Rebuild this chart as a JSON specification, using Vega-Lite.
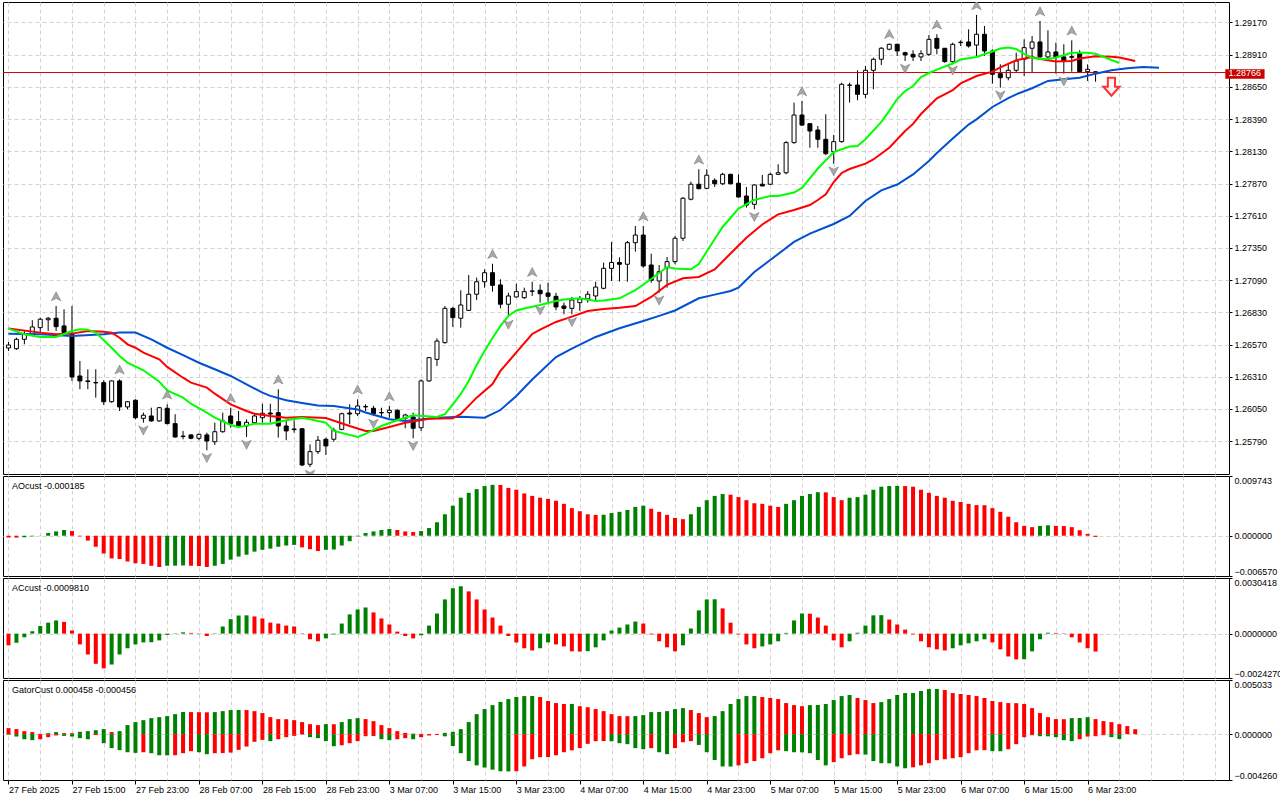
{
  "$schema": "https://vega.github.io/schema/vega-lite/v6.json",
  "background": "white",
  "padding": {"left": 2, "top": 1, "right": 0, "bottom": 0},
  "spacing": 2,
  "bounds": "flush",
  "config": {
    "view": {"stroke": "#000000", "strokeWidth": 1},
    "axis": {"labelFont": "Liberation Sans", "labelFontSize": 9, "labelColor": "#000000", "gridColor": "#d2d2d2", "gridDash": [4, 3], "gridWidth": 1, "domain": false, "tickColor": "#000000", "tickSize": 3, "labelPadding": 2},
    "text": {"font": "Liberation Sans", "fontSize": 9}
  },
  "datasets": {
    "candles": [
      {"i":0,"o":1.26542,"h":1.26590,"l":1.26518,"c":1.26566},
      {"i":1,"o":1.26536,"h":1.26625,"l":1.26526,"c":1.26612},
      {"i":2,"o":1.26612,"h":1.26679,"l":1.26572,"c":1.26653},
      {"i":3,"o":1.26653,"h":1.26766,"l":1.26639,"c":1.26712},
      {"i":4,"o":1.26706,"h":1.26787,"l":1.26666,"c":1.26774},
      {"i":5,"o":1.26770,"h":1.26792,"l":1.26679,"c":1.26782},
      {"i":6,"o":1.26782,"h":1.26881,"l":1.26679,"c":1.26714},
      {"i":7,"o":1.26720,"h":1.26854,"l":1.26639,"c":1.26666},
      {"i":8,"o":1.26653,"h":1.26881,"l":1.26276,"c":1.26308},
      {"i":9,"o":1.26316,"h":1.26437,"l":1.26209,"c":1.26276},
      {"i":10,"o":1.26276,"h":1.26370,"l":1.26209,"c":1.26271},
      {"i":11,"o":1.26263,"h":1.26370,"l":1.26141,"c":1.26260},
      {"i":12,"o":1.26262,"h":1.26281,"l":1.26082,"c":1.26108},
      {"i":13,"o":1.26108,"h":1.26281,"l":1.26100,"c":1.26276},
      {"i":14,"o":1.26276,"h":1.26289,"l":1.26033,"c":1.26066},
      {"i":15,"o":1.26066,"h":1.26114,"l":1.26047,"c":1.26108},
      {"i":16,"o":1.26120,"h":1.26128,"l":1.25966,"c":1.25979},
      {"i":17,"o":1.25974,"h":1.26020,"l":1.25939,"c":1.25999},
      {"i":18,"o":1.25993,"h":1.26060,"l":1.25947,"c":1.25953},
      {"i":19,"o":1.25953,"h":1.26066,"l":1.25947,"c":1.26060},
      {"i":20,"o":1.26055,"h":1.26087,"l":1.25926,"c":1.25931},
      {"i":21,"o":1.25931,"h":1.26007,"l":1.25818,"c":1.25823},
      {"i":22,"o":1.25831,"h":1.25872,"l":1.25805,"c":1.25827},
      {"i":23,"o":1.25840,"h":1.25845,"l":1.25805,"c":1.25813},
      {"i":24,"o":1.25813,"h":1.25850,"l":1.25797,"c":1.25845},
      {"i":25,"o":1.25840,"h":1.25858,"l":1.25716,"c":1.25791},
      {"i":26,"o":1.25785,"h":1.25939,"l":1.25759,"c":1.25866},
      {"i":27,"o":1.25866,"h":1.26020,"l":1.25858,"c":1.25953},
      {"i":28,"o":1.25993,"h":1.26060,"l":1.25898,"c":1.25931},
      {"i":29,"o":1.25947,"h":1.26033,"l":1.25898,"c":1.25912},
      {"i":30,"o":1.25912,"h":1.25966,"l":1.25823,"c":1.25942},
      {"i":31,"o":1.25939,"h":1.26007,"l":1.25931,"c":1.25993},
      {"i":32,"o":1.25979,"h":1.26092,"l":1.25939,"c":1.26015},
      {"i":33,"o":1.26017,"h":1.26092,"l":1.25939,"c":1.26009},
      {"i":34,"o":1.26020,"h":1.26209,"l":1.25818,"c":1.25912},
      {"i":35,"o":1.25912,"h":1.25953,"l":1.25797,"c":1.25872},
      {"i":36,"o":1.25888,"h":1.25958,"l":1.25858,"c":1.25883},
      {"i":37,"o":1.25890,"h":1.25893,"l":1.25589,"c":1.25597},
      {"i":38,"o":1.25603,"h":1.25764,"l":1.25581,"c":1.25705},
      {"i":39,"o":1.25705,"h":1.25831,"l":1.25686,"c":1.25797},
      {"i":40,"o":1.25805,"h":1.25818,"l":1.25678,"c":1.25751},
      {"i":41,"o":1.25805,"h":1.25898,"l":1.25785,"c":1.25878},
      {"i":42,"o":1.25885,"h":1.26020,"l":1.25878,"c":1.26011},
      {"i":43,"o":1.26017,"h":1.26087,"l":1.25926,"c":1.26009},
      {"i":44,"o":1.26011,"h":1.26128,"l":1.25993,"c":1.26074},
      {"i":45,"o":1.26066,"h":1.26087,"l":1.26033,"c":1.26070},
      {"i":46,"o":1.26055,"h":1.26074,"l":1.25993,"c":1.26011},
      {"i":47,"o":1.26021,"h":1.26060,"l":1.25993,"c":1.26018},
      {"i":48,"o":1.26020,"h":1.26074,"l":1.25979,"c":1.26039},
      {"i":49,"o":1.26039,"h":1.26047,"l":1.25966,"c":1.25974},
      {"i":50,"o":1.25974,"h":1.26011,"l":1.25894,"c":1.26001},
      {"i":51,"o":1.25985,"h":1.26020,"l":1.25813,"c":1.25894},
      {"i":52,"o":1.25898,"h":1.26289,"l":1.25872,"c":1.26276},
      {"i":53,"o":1.26276,"h":1.26469,"l":1.26270,"c":1.26464},
      {"i":54,"o":1.26450,"h":1.26620,"l":1.26397,"c":1.26598},
      {"i":55,"o":1.26585,"h":1.26881,"l":1.26577,"c":1.26862},
      {"i":56,"o":1.26862,"h":1.26873,"l":1.26712,"c":1.26787},
      {"i":57,"o":1.26782,"h":1.27008,"l":1.26706,"c":1.26889},
      {"i":58,"o":1.26846,"h":1.27131,"l":1.26841,"c":1.26976},
      {"i":59,"o":1.26976,"h":1.27110,"l":1.26930,"c":1.27077},
      {"i":60,"o":1.27077,"h":1.27177,"l":1.27029,"c":1.27150},
      {"i":61,"o":1.27150,"h":1.27222,"l":1.26997,"c":1.27048},
      {"i":62,"o":1.27051,"h":1.27097,"l":1.26862,"c":1.26895},
      {"i":63,"o":1.26895,"h":1.26988,"l":1.26792,"c":1.26962},
      {"i":64,"o":1.26954,"h":1.27061,"l":1.26948,"c":1.26997},
      {"i":65,"o":1.26948,"h":1.27029,"l":1.26938,"c":1.26997},
      {"i":66,"o":1.27002,"h":1.27077,"l":1.26962,"c":1.27000},
      {"i":67,"o":1.27008,"h":1.27056,"l":1.26908,"c":1.26980},
      {"i":68,"o":1.26986,"h":1.27069,"l":1.26895,"c":1.26959},
      {"i":69,"o":1.26959,"h":1.26988,"l":1.26846,"c":1.26873},
      {"i":70,"o":1.26881,"h":1.26908,"l":1.26814,"c":1.26862},
      {"i":71,"o":1.26862,"h":1.26954,"l":1.26814,"c":1.26929},
      {"i":72,"o":1.26908,"h":1.26962,"l":1.26841,"c":1.26938},
      {"i":73,"o":1.26938,"h":1.27002,"l":1.26908,"c":1.26976},
      {"i":74,"o":1.26962,"h":1.27077,"l":1.26916,"c":1.27034},
      {"i":75,"o":1.27024,"h":1.27231,"l":1.27016,"c":1.27185},
      {"i":76,"o":1.27185,"h":1.27398,"l":1.27083,"c":1.27232},
      {"i":77,"o":1.27232,"h":1.27274,"l":1.27079,"c":1.27218},
      {"i":78,"o":1.27218,"h":1.27406,"l":1.27077,"c":1.27392},
      {"i":79,"o":1.27392,"h":1.27527,"l":1.27320,"c":1.27454},
      {"i":80,"o":1.27454,"h":1.27527,"l":1.27190,"c":1.27204},
      {"i":81,"o":1.27212,"h":1.27303,"l":1.27069,"c":1.27089},
      {"i":82,"o":1.27083,"h":1.27212,"l":1.26988,"c":1.27158},
      {"i":83,"o":1.27190,"h":1.27277,"l":1.27029,"c":1.27239},
      {"i":84,"o":1.27239,"h":1.27446,"l":1.27218,"c":1.27428},
      {"i":85,"o":1.27428,"h":1.27761,"l":1.27406,"c":1.27751},
      {"i":86,"o":1.27743,"h":1.27885,"l":1.27734,"c":1.27864},
      {"i":87,"o":1.27864,"h":1.27985,"l":1.27823,"c":1.27828},
      {"i":88,"o":1.27831,"h":1.27985,"l":1.27823,"c":1.27937},
      {"i":89,"o":1.27896,"h":1.27912,"l":1.27842,"c":1.27868},
      {"i":90,"o":1.27868,"h":1.27957,"l":1.27858,"c":1.27944},
      {"i":91,"o":1.27944,"h":1.27949,"l":1.27864,"c":1.27868},
      {"i":92,"o":1.27872,"h":1.27944,"l":1.27755,"c":1.27761},
      {"i":93,"o":1.27769,"h":1.27842,"l":1.27675,"c":1.27696},
      {"i":94,"o":1.27702,"h":1.27864,"l":1.27662,"c":1.27858},
      {"i":95,"o":1.27864,"h":1.27939,"l":1.27848,"c":1.27850},
      {"i":96,"o":1.27864,"h":1.27957,"l":1.27858,"c":1.27944},
      {"i":97,"o":1.27944,"h":1.28025,"l":1.27939,"c":1.27957},
      {"i":98,"o":1.27957,"h":1.28213,"l":1.27944,"c":1.28200},
      {"i":99,"o":1.28200,"h":1.28523,"l":1.28192,"c":1.28423},
      {"i":100,"o":1.28423,"h":1.28536,"l":1.28334,"c":1.28342},
      {"i":101,"o":1.28353,"h":1.28358,"l":1.28159,"c":1.28294},
      {"i":102,"o":1.28302,"h":1.28334,"l":1.28159,"c":1.28227},
      {"i":103,"o":1.28227,"h":1.28429,"l":1.28100,"c":1.28111},
      {"i":104,"o":1.28127,"h":1.28262,"l":1.28030,"c":1.28208},
      {"i":105,"o":1.28208,"h":1.28684,"l":1.28200,"c":1.28671},
      {"i":106,"o":1.28665,"h":1.28684,"l":1.28523,"c":1.28663},
      {"i":107,"o":1.28665,"h":1.28784,"l":1.28542,"c":1.28590},
      {"i":108,"o":1.28590,"h":1.28819,"l":1.28558,"c":1.28784},
      {"i":109,"o":1.28784,"h":1.28886,"l":1.28631,"c":1.28873},
      {"i":110,"o":1.28873,"h":1.28972,"l":1.28827,"c":1.28962},
      {"i":111,"o":1.28954,"h":1.28999,"l":1.28946,"c":1.28994},
      {"i":112,"o":1.28994,"h":1.28999,"l":1.28900,"c":1.28940},
      {"i":113,"o":1.28926,"h":1.28934,"l":1.28859,"c":1.28908},
      {"i":114,"o":1.28913,"h":1.28946,"l":1.28859,"c":1.28892},
      {"i":115,"o":1.28892,"h":1.28946,"l":1.28859,"c":1.28918},
      {"i":116,"o":1.28913,"h":1.29069,"l":1.28900,"c":1.29034},
      {"i":117,"o":1.29042,"h":1.29075,"l":1.28913,"c":1.28962},
      {"i":118,"o":1.28962,"h":1.28964,"l":1.28845,"c":1.28854},
      {"i":119,"o":1.28854,"h":1.29007,"l":1.28845,"c":1.28994},
      {"i":120,"o":1.29007,"h":1.29026,"l":1.28980,"c":1.29011},
      {"i":121,"o":1.29013,"h":1.29115,"l":1.28967,"c":1.28980},
      {"i":122,"o":1.28988,"h":1.29231,"l":1.28900,"c":1.29075},
      {"i":123,"o":1.29075,"h":1.29142,"l":1.28900,"c":1.28940},
      {"i":124,"o":1.28940,"h":1.28954,"l":1.28676,"c":1.28752},
      {"i":125,"o":1.28757,"h":1.28832,"l":1.28644,"c":1.28724},
      {"i":126,"o":1.28724,"h":1.28832,"l":1.28703,"c":1.28784},
      {"i":127,"o":1.28784,"h":1.28926,"l":1.28765,"c":1.28859},
      {"i":128,"o":1.28873,"h":1.29034,"l":1.28738,"c":1.28967},
      {"i":129,"o":1.28962,"h":1.29061,"l":1.28765,"c":1.29013},
      {"i":130,"o":1.29013,"h":1.29182,"l":1.28886,"c":1.28892},
      {"i":131,"o":1.28892,"h":1.29107,"l":1.28881,"c":1.28932},
      {"i":132,"o":1.28932,"h":1.29007,"l":1.28757,"c":1.28886},
      {"i":133,"o":1.28892,"h":1.28994,"l":1.28757,"c":1.28859},
      {"i":134,"o":1.28894,"h":1.29026,"l":1.28773,"c":1.28889},
      {"i":135,"o":1.28926,"h":1.28946,"l":1.28765,"c":1.28773},
      {"i":136,"o":1.28773,"h":1.28832,"l":1.28698,"c":1.28792},
      {"i":137,"o":1.28772,"h":1.28775,"l":1.28692,"c":1.28766}
    ],
    "lines": [
      {"s":"J","i":0,"v":1.26657},{"s":"J","i":4,"v":1.26653},{"s":"J","i":8,"v":1.26639},{"s":"J","i":12,"v":1.26653},{"s":"J","i":14,"v":1.26666},{"s":"J","i":16,"v":1.26666},{"s":"J","i":18,"v":1.26612},{"s":"J","i":20,"v":1.26544},{"s":"J","i":22,"v":1.26485},{"s":"J","i":24,"v":1.26423},{"s":"J","i":26,"v":1.26370},{"s":"J","i":28,"v":1.26316},{"s":"J","i":30,"v":1.26249},{"s":"J","i":32,"v":1.26181},{"s":"J","i":33,"v":1.26155},{"s":"J","i":35,"v":1.26120},{"s":"J","i":37,"v":1.26098},{"s":"J","i":39,"v":1.26078},{"s":"J","i":41,"v":1.26074},{"s":"J","i":44,"v":1.26045},{"s":"J","i":45,"v":1.26021},{"s":"J","i":48,"v":1.25966},{"s":"J","i":50,"v":1.25953},{"s":"J","i":54,"v":1.25979},{"s":"J","i":57,"v":1.25987},{"s":"J","i":60,"v":1.25979},{"s":"J","i":62,"v":1.26041},{"s":"J","i":64,"v":1.26155},{"s":"J","i":66,"v":1.26288},{"s":"J","i":69,"v":1.26469},{"s":"J","i":71,"v":1.26536},{"s":"J","i":74,"v":1.26631},{"s":"J","i":77,"v":1.26701},{"s":"J","i":80,"v":1.26760},{"s":"J","i":82,"v":1.26801},{"s":"J","i":84,"v":1.26845},{"s":"J","i":87,"v":1.26943},{"s":"J","i":89,"v":1.26973},{"s":"J","i":91,"v":1.27002},{"s":"J","i":92,"v":1.27029},{"s":"J","i":94,"v":1.27155},{"s":"J","i":96,"v":1.27252},{"s":"J","i":99,"v":1.27398},{"s":"J","i":101,"v":1.27466},{"s":"J","i":104,"v":1.27543},{"s":"J","i":106,"v":1.27608},{"s":"J","i":108,"v":1.27729},{"s":"J","i":110,"v":1.27815},{"s":"J","i":112,"v":1.27862},{"s":"J","i":114,"v":1.27943},{"s":"J","i":116,"v":1.28052},{"s":"J","i":117,"v":1.28116},{"s":"J","i":119,"v":1.28233},{"s":"J","i":121,"v":1.28346},{"s":"J","i":122,"v":1.28388},{"s":"J","i":124,"v":1.28488},{"s":"J","i":126,"v":1.28560},{"s":"J","i":127,"v":1.28590},{"s":"J","i":129,"v":1.28639},{"s":"J","i":131,"v":1.28698},{"s":"J","i":133,"v":1.28711},{"s":"J","i":135,"v":1.28724},{"s":"J","i":137,"v":1.28757},{"s":"J","i":139,"v":1.28784},{"s":"J","i":141,"v":1.28800},{"s":"J","i":143,"v":1.28811},{"s":"J","i":145,"v":1.28805},
      {"s":"T","i":0,"v":1.26700},{"s":"T","i":4,"v":1.26666},{"s":"T","i":6,"v":1.26653},{"s":"T","i":8,"v":1.26658},{"s":"T","i":10,"v":1.26679},{"s":"T","i":12,"v":1.26673},{"s":"T","i":13,"v":1.26666},{"s":"T","i":14,"v":1.26625},{"s":"T","i":15,"v":1.26571},{"s":"T","i":16,"v":1.26544},{"s":"T","i":17,"v":1.26504},{"s":"T","i":19,"v":1.26450},{"s":"T","i":20,"v":1.26389},{"s":"T","i":22,"v":1.26302},{"s":"T","i":23,"v":1.26262},{"s":"T","i":25,"v":1.26222},{"s":"T","i":26,"v":1.26173},{"s":"T","i":28,"v":1.26087},{"s":"T","i":30,"v":1.26033},{"s":"T","i":31,"v":1.26011},{"s":"T","i":33,"v":1.25993},{"s":"T","i":35,"v":1.25979},{"s":"T","i":37,"v":1.25985},{"s":"T","i":40,"v":1.25977},{"s":"T","i":43,"v":1.25912},{"s":"T","i":45,"v":1.25872},{"s":"T","i":46,"v":1.25872},{"s":"T","i":48,"v":1.25904},{"s":"T","i":50,"v":1.25939},{"s":"T","i":53,"v":1.25971},{"s":"T","i":56,"v":1.25974},{"s":"T","i":57,"v":1.26009},{"s":"T","i":59,"v":1.26141},{"s":"T","i":61,"v":1.26251},{"s":"T","i":62,"v":1.26357},{"s":"T","i":64,"v":1.26506},{"s":"T","i":66,"v":1.26655},{"s":"T","i":67,"v":1.26691},{"s":"T","i":69,"v":1.26752},{"s":"T","i":71,"v":1.26795},{"s":"T","i":73,"v":1.26841},{"s":"T","i":75,"v":1.26857},{"s":"T","i":77,"v":1.26867},{"s":"T","i":79,"v":1.26881},{"s":"T","i":81,"v":1.26954},{"s":"T","i":83,"v":1.27051},{"s":"T","i":85,"v":1.27105},{"s":"T","i":87,"v":1.27115},{"s":"T","i":89,"v":1.27176},{"s":"T","i":91,"v":1.27305},{"s":"T","i":93,"v":1.27432},{"s":"T","i":95,"v":1.27539},{"s":"T","i":97,"v":1.27621},{"s":"T","i":99,"v":1.27656},{"s":"T","i":101,"v":1.27696},{"s":"T","i":102,"v":1.27737},{"s":"T","i":103,"v":1.27783},{"s":"T","i":104,"v":1.27882},{"s":"T","i":105,"v":1.27955},{"s":"T","i":106,"v":1.27987},{"s":"T","i":108,"v":1.28030},{"s":"T","i":109,"v":1.28064},{"s":"T","i":111,"v":1.28159},{"s":"T","i":113,"v":1.28294},{"s":"T","i":114,"v":1.28351},{"s":"T","i":115,"v":1.28431},{"s":"T","i":117,"v":1.28558},{"s":"T","i":119,"v":1.28623},{"s":"T","i":120,"v":1.28678},{"s":"T","i":122,"v":1.28738},{"s":"T","i":124,"v":1.28773},{"s":"T","i":125,"v":1.28807},{"s":"T","i":127,"v":1.28865},{"s":"T","i":129,"v":1.28892},{"s":"T","i":130,"v":1.28875},{"s":"T","i":132,"v":1.28855},{"s":"T","i":134,"v":1.28859},{"s":"T","i":135,"v":1.28879},{"s":"T","i":137,"v":1.28897},{"s":"T","i":139,"v":1.28894},{"s":"T","i":140,"v":1.28887},{"s":"T","i":142,"v":1.28859},
      {"s":"L","i":0,"v":1.26698},{"s":"L","i":2,"v":1.26653},{"s":"L","i":4,"v":1.26631},{"s":"L","i":6,"v":1.26631},{"s":"L","i":8,"v":1.26679},{"s":"L","i":9,"v":1.26693},{"s":"L","i":10,"v":1.26690},{"s":"L","i":11,"v":1.26666},{"s":"L","i":13,"v":1.26544},{"s":"L","i":14,"v":1.26477},{"s":"L","i":15,"v":1.26423},{"s":"L","i":17,"v":1.26362},{"s":"L","i":19,"v":1.26270},{"s":"L","i":20,"v":1.26200},{"s":"L","i":22,"v":1.26141},{"s":"L","i":23,"v":1.26092},{"s":"L","i":25,"v":1.26020},{"s":"L","i":26,"v":1.25979},{"s":"L","i":28,"v":1.25920},{"s":"L","i":29,"v":1.25904},{"s":"L","i":30,"v":1.25915},{"s":"L","i":31,"v":1.25931},{"s":"L","i":33,"v":1.25931},{"s":"L","i":35,"v":1.25958},{"s":"L","i":37,"v":1.25979},{"s":"L","i":38,"v":1.25966},{"s":"L","i":40,"v":1.25939},{"s":"L","i":41,"v":1.25872},{"s":"L","i":44,"v":1.25823},{"s":"L","i":45,"v":1.25848},{"s":"L","i":47,"v":1.25912},{"s":"L","i":49,"v":1.25958},{"s":"L","i":51,"v":1.25999},{"s":"L","i":54,"v":1.25985},{"s":"L","i":55,"v":1.26007},{"s":"L","i":56,"v":1.26087},{"s":"L","i":57,"v":1.26171},{"s":"L","i":58,"v":1.26276},{"s":"L","i":59,"v":1.26405},{"s":"L","i":60,"v":1.26518},{"s":"L","i":61,"v":1.26623},{"s":"L","i":62,"v":1.26720},{"s":"L","i":63,"v":1.26801},{"s":"L","i":64,"v":1.26845},{"s":"L","i":65,"v":1.26861},{"s":"L","i":67,"v":1.26889},{"s":"L","i":69,"v":1.26921},{"s":"L","i":70,"v":1.26933},{"s":"L","i":72,"v":1.26943},{"s":"L","i":74,"v":1.26921},{"s":"L","i":75,"v":1.26925},{"s":"L","i":77,"v":1.26943},{"s":"L","i":79,"v":1.27010},{"s":"L","i":81,"v":1.27099},{"s":"L","i":83,"v":1.27196},{"s":"L","i":84,"v":1.27184},{"s":"L","i":86,"v":1.27177},{"s":"L","i":87,"v":1.27220},{"s":"L","i":89,"v":1.27422},{"s":"L","i":90,"v":1.27519},{"s":"L","i":92,"v":1.27668},{"s":"L","i":94,"v":1.27737},{"s":"L","i":96,"v":1.27769},{"s":"L","i":97,"v":1.27769},{"s":"L","i":99,"v":1.27797},{"s":"L","i":100,"v":1.27834},{"s":"L","i":102,"v":1.27991},{"s":"L","i":104,"v":1.28124},{"s":"L","i":106,"v":1.28169},{"s":"L","i":107,"v":1.28173},{"s":"L","i":108,"v":1.28227},{"s":"L","i":110,"v":1.28367},{"s":"L","i":111,"v":1.28456},{"s":"L","i":112,"v":1.28552},{"s":"L","i":113,"v":1.28617},{"s":"L","i":114,"v":1.28657},{"s":"L","i":115,"v":1.28730},{"s":"L","i":116,"v":1.28762},{"s":"L","i":117,"v":1.28790},{"s":"L","i":119,"v":1.28839},{"s":"L","i":120,"v":1.28871},{"s":"L","i":122,"v":1.28892},{"s":"L","i":124,"v":1.28936},{"s":"L","i":125,"v":1.28960},{"s":"L","i":126,"v":1.28968},{"s":"L","i":127,"v":1.28956},{"s":"L","i":128,"v":1.28916},{"s":"L","i":129,"v":1.28886},{"s":"L","i":130,"v":1.28875},{"s":"L","i":131,"v":1.28875},{"s":"L","i":132,"v":1.28887},{"s":"L","i":134,"v":1.28925},{"s":"L","i":136,"v":1.28926},{"s":"L","i":137,"v":1.28918},{"s":"L","i":138,"v":1.28892},{"s":"L","i":139,"v":1.28867},{"s":"L","i":140,"v":1.28843}
    ],
    "fu": [
      {"i":6,"p":1.26881},{"i":14,"p":1.26289},{"i":20,"p":1.26087},{"i":28,"p":1.26060},{"i":34,"p":1.26209},{"i":44,"p":1.26128},{"i":48,"p":1.26074},{"i":61,"p":1.27222},{"i":66,"p":1.27077},{"i":80,"p":1.27527},{"i":87,"p":1.27985},{"i":100,"p":1.28536},{"i":111,"p":1.28999},{"i":117,"p":1.29075},{"i":122,"p":1.29231},{"i":130,"p":1.29182},{"i":134,"p":1.29026}
    ],
    "fd": [
      {"i":17,"p":1.25939},{"i":25,"p":1.25716},{"i":30,"p":1.25823},{"i":38,"p":1.25581},{"i":46,"p":1.25993},{"i":51,"p":1.25813},{"i":63,"p":1.26792},{"i":67,"p":1.26908},{"i":71,"p":1.26814},{"i":82,"p":1.26988},{"i":94,"p":1.27662},{"i":104,"p":1.28030},{"i":113,"p":1.28859},{"i":119,"p":1.28845},{"i":125,"p":1.28644},{"i":133,"p":1.28757}
    ],
    "sig": [{"i":139,"p":1.28652}],
    "bid": [{"p":1.28766,"lo":1.28716,"hi":1.28793,"t":"1.28766"}],
    "ao": [
      {"i":0,"v":-0.0003,"k":"r"},{"i":1,"v":-0.0003,"k":"r"},{"i":2,"v":-0.00025,"k":"g"},{"i":3,"v":-0.0001,"k":"g"},{"i":4,"v":0.00002,"k":"g"},{"i":5,"v":0.00044,"k":"g"},{"i":6,"v":0.0007,"k":"g"},{"i":7,"v":0.00093,"k":"g"},{"i":8,"v":0.00076,"k":"r"},{"i":9,"v":-0.0001,"k":"r"},
      {"i":10,"v":-0.0008,"k":"r"},{"i":11,"v":-0.0018,"k":"r"},{"i":12,"v":-0.0029,"k":"r"},{"i":13,"v":-0.0037,"k":"r"},{"i":14,"v":-0.0038,"k":"r"},{"i":15,"v":-0.0042,"k":"r"},{"i":16,"v":-0.0045,"k":"r"},{"i":17,"v":-0.0046,"k":"r"},{"i":18,"v":-0.0049,"k":"r"},{"i":19,"v":-0.0051,"k":"r"},
      {"i":20,"v":-0.0049,"k":"g"},{"i":21,"v":-0.00488,"k":"g"},{"i":22,"v":-0.00485,"k":"g"},{"i":23,"v":-0.0049,"k":"r"},{"i":24,"v":-0.00495,"k":"r"},{"i":25,"v":-0.0051,"k":"r"},{"i":26,"v":-0.0049,"k":"g"},{"i":27,"v":-0.0046,"k":"g"},{"i":28,"v":-0.0039,"k":"g"},{"i":29,"v":-0.0034,"k":"g"},
      {"i":30,"v":-0.0031,"k":"g"},{"i":31,"v":-0.0026,"k":"g"},{"i":32,"v":-0.0023,"k":"g"},{"i":33,"v":-0.0021,"k":"g"},{"i":34,"v":-0.0018,"k":"g"},{"i":35,"v":-0.0016,"k":"g"},{"i":36,"v":-0.0015,"k":"g"},{"i":37,"v":-0.0019,"k":"r"},{"i":38,"v":-0.0022,"k":"r"},{"i":39,"v":-0.0025,"k":"r"},
      {"i":40,"v":-0.0023,"k":"g"},{"i":41,"v":-0.00225,"k":"g"},{"i":42,"v":-0.0016,"k":"g"},{"i":43,"v":-0.0009,"k":"g"},{"i":44,"v":-0.0001,"k":"g"},{"i":45,"v":0.00044,"k":"g"},{"i":46,"v":0.0007,"k":"g"},{"i":47,"v":0.00093,"k":"g"},{"i":48,"v":0.0011,"k":"g"},{"i":49,"v":0.00093,"k":"r"},
      {"i":50,"v":0.0007,"k":"r"},{"i":51,"v":0.0006,"k":"r"},{"i":52,"v":0.00076,"k":"g"},{"i":53,"v":0.00125,"k":"g"},{"i":54,"v":0.0022,"k":"g"},{"i":55,"v":0.0035,"k":"g"},{"i":56,"v":0.0049,"k":"g"},{"i":57,"v":0.0062,"k":"g"},{"i":58,"v":0.007,"k":"g"},{"i":59,"v":0.0076,"k":"g"},
      {"i":60,"v":0.0081,"k":"g"},{"i":61,"v":0.0083,"k":"g"},{"i":62,"v":0.00828,"k":"r"},{"i":63,"v":0.0078,"k":"r"},{"i":64,"v":0.0075,"k":"r"},{"i":65,"v":0.0069,"k":"r"},{"i":66,"v":0.0065,"k":"r"},{"i":67,"v":0.0062,"k":"r"},{"i":68,"v":0.006,"k":"r"},{"i":69,"v":0.0057,"k":"r"},
      {"i":70,"v":0.0052,"k":"r"},{"i":71,"v":0.0045,"k":"r"},{"i":72,"v":0.004,"k":"r"},{"i":73,"v":0.0035,"k":"r"},{"i":74,"v":0.0034,"k":"r"},{"i":75,"v":0.00342,"k":"g"},{"i":76,"v":0.0037,"k":"g"},{"i":77,"v":0.0039,"k":"g"},{"i":78,"v":0.0042,"k":"g"},{"i":79,"v":0.0047,"k":"g"},
      {"i":80,"v":0.0049,"k":"g"},{"i":81,"v":0.0044,"k":"r"},{"i":82,"v":0.0039,"k":"r"},{"i":83,"v":0.0034,"k":"r"},{"i":84,"v":0.0029,"k":"r"},{"i":85,"v":0.0027,"k":"r"},{"i":86,"v":0.0035,"k":"g"},{"i":87,"v":0.0047,"k":"g"},{"i":88,"v":0.0058,"k":"g"},{"i":89,"v":0.0065,"k":"g"},
      {"i":90,"v":0.0068,"k":"g"},{"i":91,"v":0.0067,"k":"r"},{"i":92,"v":0.0063,"k":"r"},{"i":93,"v":0.0058,"k":"r"},{"i":94,"v":0.0053,"k":"r"},{"i":95,"v":0.0052,"k":"r"},{"i":96,"v":0.0049,"k":"r"},{"i":97,"v":0.0047,"k":"r"},{"i":98,"v":0.0052,"k":"g"},{"i":99,"v":0.0058,"k":"g"},
      {"i":100,"v":0.0065,"k":"g"},{"i":101,"v":0.0068,"k":"g"},{"i":102,"v":0.0071,"k":"g"},{"i":103,"v":0.00708,"k":"r"},{"i":104,"v":0.0063,"k":"r"},{"i":105,"v":0.0058,"k":"r"},{"i":106,"v":0.0062,"k":"g"},{"i":107,"v":0.0063,"k":"g"},{"i":108,"v":0.0067,"k":"g"},{"i":109,"v":0.0075,"k":"g"},
      {"i":110,"v":0.008,"k":"g"},{"i":111,"v":0.0081,"k":"g"},{"i":112,"v":0.00813,"k":"g"},{"i":113,"v":0.0081,"k":"r"},{"i":114,"v":0.008,"k":"r"},{"i":115,"v":0.0075,"k":"r"},{"i":116,"v":0.007,"k":"r"},{"i":117,"v":0.0065,"k":"r"},{"i":118,"v":0.0062,"k":"r"},{"i":119,"v":0.0057,"k":"r"},
      {"i":120,"v":0.0055,"k":"r"},{"i":121,"v":0.0052,"k":"r"},{"i":122,"v":0.005,"k":"r"},{"i":123,"v":0.00498,"k":"r"},{"i":124,"v":0.0045,"k":"r"},{"i":125,"v":0.0039,"k":"r"},{"i":126,"v":0.0031,"k":"r"},{"i":127,"v":0.0022,"k":"r"},{"i":128,"v":0.0016,"k":"r"},{"i":129,"v":0.0014,"k":"r"},
      {"i":130,"v":0.0016,"k":"g"},{"i":131,"v":0.0017,"k":"g"},{"i":132,"v":0.0016,"k":"r"},{"i":133,"v":0.00158,"k":"r"},{"i":134,"v":0.0014,"k":"r"},{"i":135,"v":0.0009,"k":"r"},{"i":136,"v":0.0003,"k":"r"},{"i":137,"v":-0.000185,"k":"r"}
    ],
    "ac": [
      {"i":0,"v":-0.00064,"k":"r"},{"i":1,"v":-0.0005,"k":"g"},{"i":2,"v":-0.0002,"k":"g"},{"i":3,"v":0.00013,"k":"g"},{"i":4,"v":0.00042,"k":"g"},{"i":5,"v":0.0006,"k":"g"},{"i":6,"v":0.00072,"k":"g"},{"i":7,"v":0.00064,"k":"r"},{"i":8,"v":0.00017,"k":"r"},{"i":9,"v":-0.00059,"k":"r"},
      {"i":10,"v":-0.00114,"k":"r"},{"i":11,"v":-0.00165,"k":"r"},{"i":12,"v":-0.0019,"k":"r"},{"i":13,"v":-0.00169,"k":"g"},{"i":14,"v":-0.00114,"k":"g"},{"i":15,"v":-0.0008,"k":"g"},{"i":16,"v":-0.00059,"k":"g"},{"i":17,"v":-0.00048,"k":"g"},{"i":18,"v":-0.00047,"k":"g"},{"i":19,"v":-0.00037,"k":"g"},
      {"i":20,"v":-0.00007,"k":"g"},{"i":21,"v":-0.00002,"k":"g"},{"i":22,"v":0.00007,"k":"g"},{"i":23,"v":0.00004,"k":"r"},{"i":24,"v":-0.00002,"k":"r"},{"i":25,"v":-0.00013,"k":"r"},{"i":26,"v":-0.00002,"k":"g"},{"i":27,"v":0.00039,"k":"g"},{"i":28,"v":0.00079,"k":"g"},{"i":29,"v":0.00099,"k":"g"},
      {"i":30,"v":0.001,"k":"g"},{"i":31,"v":0.00094,"k":"r"},{"i":32,"v":0.00083,"k":"r"},{"i":33,"v":0.0006,"k":"r"},{"i":34,"v":0.00055,"k":"r"},{"i":35,"v":0.00044,"k":"r"},{"i":36,"v":0.00039,"k":"r"},{"i":37,"v":-0.00002,"k":"r"},{"i":38,"v":-0.00031,"k":"r"},{"i":39,"v":-0.00042,"k":"r"},
      {"i":40,"v":-0.00026,"k":"g"},{"i":41,"v":-0.00004,"k":"g"},{"i":42,"v":0.00055,"k":"g"},{"i":43,"v":0.00105,"k":"g"},{"i":44,"v":0.00132,"k":"g"},{"i":45,"v":0.00143,"k":"g"},{"i":46,"v":0.00116,"k":"r"},{"i":47,"v":0.00083,"k":"r"},{"i":48,"v":0.0005,"k":"r"},{"i":49,"v":0.00011,"k":"r"},
      {"i":50,"v":-0.00013,"k":"r"},{"i":51,"v":-0.00026,"k":"r"},{"i":52,"v":-0.00009,"k":"g"},{"i":53,"v":0.00044,"k":"g"},{"i":54,"v":0.0011,"k":"g"},{"i":55,"v":0.00187,"k":"g"},{"i":56,"v":0.00248,"k":"g"},{"i":57,"v":0.00259,"k":"g"},{"i":58,"v":0.00231,"k":"r"},{"i":59,"v":0.00187,"k":"r"},
      {"i":60,"v":0.00132,"k":"r"},{"i":61,"v":0.00088,"k":"r"},{"i":62,"v":0.00044,"k":"r"},{"i":63,"v":-0.00013,"k":"r"},{"i":64,"v":-0.00048,"k":"r"},{"i":65,"v":-0.0008,"k":"r"},{"i":66,"v":-0.00092,"k":"r"},{"i":67,"v":-0.0008,"k":"g"},{"i":68,"v":-0.00048,"k":"g"},{"i":69,"v":-0.00059,"k":"r"},
      {"i":70,"v":-0.0007,"k":"r"},{"i":71,"v":-0.00097,"k":"r"},{"i":72,"v":-0.00098,"k":"r"},{"i":73,"v":-0.00096,"k":"g"},{"i":74,"v":-0.00075,"k":"g"},{"i":75,"v":-0.00037,"k":"g"},{"i":76,"v":0.00017,"k":"g"},{"i":77,"v":0.00033,"k":"g"},{"i":78,"v":0.0005,"k":"g"},{"i":79,"v":0.00066,"k":"g"},
      {"i":80,"v":0.00055,"k":"r"},{"i":81,"v":-0.00004,"k":"r"},{"i":82,"v":-0.00042,"k":"r"},{"i":83,"v":-0.00075,"k":"r"},{"i":84,"v":-0.00097,"k":"r"},{"i":85,"v":-0.00064,"k":"g"},{"i":86,"v":0.00028,"k":"g"},{"i":87,"v":0.00127,"k":"g"},{"i":88,"v":0.00187,"k":"g"},{"i":89,"v":0.00188,"k":"g"},
      {"i":90,"v":0.00138,"k":"r"},{"i":91,"v":0.0006,"k":"r"},{"i":92,"v":-0.00004,"k":"r"},{"i":93,"v":-0.00059,"k":"r"},{"i":94,"v":-0.0008,"k":"r"},{"i":95,"v":-0.0007,"k":"g"},{"i":96,"v":-0.00059,"k":"g"},{"i":97,"v":-0.00042,"k":"g"},{"i":98,"v":0.00004,"k":"g"},{"i":99,"v":0.00072,"k":"g"},
      {"i":100,"v":0.0011,"k":"g"},{"i":101,"v":0.00109,"k":"r"},{"i":102,"v":0.00088,"k":"r"},{"i":103,"v":0.00044,"k":"r"},{"i":104,"v":-0.00037,"k":"r"},{"i":105,"v":-0.00075,"k":"r"},{"i":106,"v":-0.00042,"k":"g"},{"i":107,"v":0.00005,"k":"g"},{"i":108,"v":0.00044,"k":"g"},{"i":109,"v":0.001,"k":"g"},
      {"i":110,"v":0.00101,"k":"g"},{"i":111,"v":0.00077,"k":"r"},{"i":112,"v":0.0005,"k":"r"},{"i":113,"v":0.00022,"k":"r"},{"i":114,"v":-0.00004,"k":"r"},{"i":115,"v":-0.00042,"k":"r"},{"i":116,"v":-0.00075,"k":"r"},{"i":117,"v":-0.00086,"k":"r"},{"i":118,"v":-0.00092,"k":"r"},{"i":119,"v":-0.0008,"k":"g"},
      {"i":120,"v":-0.00064,"k":"g"},{"i":121,"v":-0.00053,"k":"g"},{"i":122,"v":-0.00042,"k":"g"},{"i":123,"v":-0.00031,"k":"g"},{"i":124,"v":-0.00048,"k":"r"},{"i":125,"v":-0.00086,"k":"r"},{"i":126,"v":-0.00125,"k":"r"},{"i":127,"v":-0.00141,"k":"r"},{"i":128,"v":-0.0014,"k":"g"},{"i":129,"v":-0.00097,"k":"g"},
      {"i":130,"v":-0.00031,"k":"g"},{"i":131,"v":0.00005,"k":"g"},{"i":132,"v":0.00004,"k":"r"},{"i":133,"v":-0.00002,"k":"r"},{"i":134,"v":-0.0002,"k":"r"},{"i":135,"v":-0.00048,"k":"r"},{"i":136,"v":-0.0008,"k":"r"},{"i":137,"v":-0.000981,"k":"r"}
    ],
    "gator": [
      {"i":0,"u":0.00056,"uk":"r","d":-0.00005,"dk":"g"},{"i":1,"u":0.00047,"uk":"r","d":-0.00022,"dk":"g"},{"i":2,"u":0.00028,"uk":"r","d":-0.00047,"dk":"g"},{"i":3,"u":0.00019,"uk":"r","d":-0.00056,"dk":"g"},{"i":4,"u":0.00003,"uk":"r","d":-0.00047,"dk":"r"},
      {"i":5,"u":0.00009,"uk":"g","d":-0.00028,"dk":"r"},{"i":6,"u":0.00019,"uk":"g","d":-0.00012,"dk":"r"},{"i":7,"u":0.00009,"uk":"r","d":-0.00016,"dk":"g"},{"i":8,"u":0.00009,"uk":"r","d":-0.00022,"dk":"g"},{"i":9,"u":0.00022,"uk":"g","d":-0.00037,"dk":"g"},
      {"i":10,"u":0.00028,"uk":"g","d":-0.00047,"dk":"g"},{"i":11,"u":0.00037,"uk":"g","d":-0.00009,"dk":"r"},{"i":12,"u":0.00047,"uk":"g","d":-0.00084,"dk":"g"},{"i":13,"u":0.00019,"uk":"r","d":-0.0013,"dk":"g"},{"i":14,"u":0.00028,"uk":"g","d":-0.00149,"dk":"g"},
      {"i":15,"u":0.00084,"uk":"g","d":-0.00168,"dk":"g"},{"i":16,"u":0.00112,"uk":"g","d":-0.00174,"dk":"g"},{"i":17,"u":0.0013,"uk":"g","d":-0.00168,"dk":"r"},{"i":18,"u":0.00149,"uk":"g","d":-0.00177,"dk":"g"},{"i":19,"u":0.00158,"uk":"g","d":-0.00196,"dk":"g"},
      {"i":20,"u":0.00168,"uk":"g","d":-0.00197,"dk":"g"},{"i":21,"u":0.00186,"uk":"g","d":-0.00196,"dk":"r"},{"i":22,"u":0.00206,"uk":"g","d":-0.00177,"dk":"r"},{"i":23,"u":0.00205,"uk":"r","d":-0.00158,"dk":"r"},{"i":24,"u":0.00204,"uk":"r","d":-0.00168,"dk":"g"},
      {"i":25,"u":0.00203,"uk":"r","d":-0.00186,"dk":"g"},{"i":26,"u":0.00205,"uk":"g","d":-0.00177,"dk":"r"},{"i":27,"u":0.00214,"uk":"g","d":-0.00176,"dk":"r"},{"i":28,"u":0.00224,"uk":"g","d":-0.00171,"dk":"r"},{"i":29,"u":0.00225,"uk":"g","d":-0.00146,"dk":"r"},
      {"i":30,"u":0.00224,"uk":"r","d":-0.00115,"dk":"r"},{"i":31,"u":0.00214,"uk":"r","d":-0.00071,"dk":"r"},{"i":32,"u":0.00196,"uk":"r","d":-0.00053,"dk":"r"},{"i":33,"u":0.00158,"uk":"r","d":-0.00065,"dk":"g"},{"i":34,"u":0.0014,"uk":"r","d":-0.00047,"dk":"r"},
      {"i":35,"u":0.00139,"uk":"r","d":-0.00028,"dk":"r"},{"i":36,"u":0.0013,"uk":"r","d":-0.00016,"dk":"r"},{"i":37,"u":0.00112,"uk":"r","d":-0.00003,"dk":"r"},{"i":38,"u":0.00093,"uk":"r","d":-0.00028,"dk":"g"},{"i":39,"u":0.00084,"uk":"r","d":-0.00037,"dk":"g"},
      {"i":40,"u":0.00093,"uk":"g","d":-0.00065,"dk":"g"},{"i":41,"u":0.00092,"uk":"r","d":-0.00112,"dk":"g"},{"i":42,"u":0.00112,"uk":"g","d":-0.00103,"dk":"r"},{"i":43,"u":0.0014,"uk":"g","d":-0.00084,"dk":"r"},{"i":44,"u":0.00149,"uk":"g","d":-0.00065,"dk":"r"},
      {"i":45,"u":0.0014,"uk":"r","d":-0.00019,"dk":"r"},{"i":46,"u":0.00121,"uk":"r","d":-0.00018,"dk":"r"},{"i":47,"u":0.00084,"uk":"r","d":-0.00047,"dk":"g"},{"i":48,"u":0.00056,"uk":"r","d":-0.00056,"dk":"g"},{"i":49,"u":0.00028,"uk":"r","d":-0.00047,"dk":"r"},
      {"i":50,"u":0.00012,"uk":"r","d":-0.00037,"dk":"r"},{"i":51,"u":0.00005,"uk":"r","d":-0.00047,"dk":"g"},{"i":52,"u":0.00003,"uk":"r","d":-0.00028,"dk":"r"},{"i":53,"u":0.00002,"uk":"r","d":-0.00012,"dk":"r"},{"i":54,"u":0.00002,"uk":"r","d":-0.00008,"dk":"r"},
      {"i":55,"u":0.00012,"uk":"g","d":-0.0002,"dk":"g"},{"i":56,"u":0.00022,"uk":"g","d":-0.0011,"dk":"g"},{"i":57,"u":0.00047,"uk":"g","d":-0.00177,"dk":"g"},{"i":58,"u":0.00112,"uk":"g","d":-0.0025,"dk":"g"},{"i":59,"u":0.00186,"uk":"g","d":-0.0029,"dk":"g"},
      {"i":60,"u":0.00233,"uk":"g","d":-0.0031,"dk":"g"},{"i":61,"u":0.0027,"uk":"g","d":-0.0033,"dk":"g"},{"i":62,"u":0.003,"uk":"g","d":-0.00345,"dk":"g"},{"i":63,"u":0.00326,"uk":"g","d":-0.00346,"dk":"g"},{"i":64,"u":0.00345,"uk":"g","d":-0.00345,"dk":"r"},
      {"i":65,"u":0.00354,"uk":"g","d":-0.003,"dk":"r"},{"i":66,"u":0.00355,"uk":"g","d":-0.00233,"dk":"r"},{"i":67,"u":0.00345,"uk":"r","d":-0.00214,"dk":"r"},{"i":68,"u":0.00308,"uk":"r","d":-0.00213,"dk":"r"},{"i":69,"u":0.00289,"uk":"r","d":-0.00196,"dk":"r"},
      {"i":70,"u":0.0028,"uk":"r","d":-0.00168,"dk":"r"},{"i":71,"u":0.00281,"uk":"g","d":-0.0015,"dk":"r"},{"i":72,"u":0.0026,"uk":"r","d":-0.0013,"dk":"r"},{"i":73,"u":0.0025,"uk":"r","d":-0.0009,"dk":"r"},{"i":74,"u":0.00233,"uk":"r","d":-0.00065,"dk":"r"},
      {"i":75,"u":0.00214,"uk":"r","d":-0.00064,"dk":"r"},{"i":76,"u":0.00186,"uk":"r","d":-0.00066,"dk":"g"},{"i":77,"u":0.00168,"uk":"r","d":-0.00084,"dk":"g"},{"i":78,"u":0.00167,"uk":"r","d":-0.00093,"dk":"g"},{"i":79,"u":0.00168,"uk":"g","d":-0.0013,"dk":"g"},
      {"i":80,"u":0.00177,"uk":"g","d":-0.0014,"dk":"g"},{"i":81,"u":0.00205,"uk":"g","d":-0.0013,"dk":"r"},{"i":82,"u":0.00206,"uk":"g","d":-0.00168,"dk":"g"},{"i":83,"u":0.00214,"uk":"g","d":-0.00186,"dk":"g"},{"i":84,"u":0.00233,"uk":"g","d":-0.0013,"dk":"r"},
      {"i":85,"u":0.00242,"uk":"g","d":-0.00075,"dk":"r"},{"i":86,"u":0.00224,"uk":"r","d":-0.00065,"dk":"r"},{"i":87,"u":0.00196,"uk":"r","d":-0.001,"dk":"g"},{"i":88,"u":0.00158,"uk":"r","d":-0.00168,"dk":"g"},{"i":89,"u":0.00168,"uk":"g","d":-0.0024,"dk":"g"},
      {"i":90,"u":0.00214,"uk":"g","d":-0.003,"dk":"g"},{"i":91,"u":0.0028,"uk":"g","d":-0.00301,"dk":"g"},{"i":92,"u":0.00326,"uk":"g","d":-0.0029,"dk":"r"},{"i":93,"u":0.00354,"uk":"g","d":-0.0027,"dk":"r"},{"i":94,"u":0.00355,"uk":"g","d":-0.0025,"dk":"r"},
      {"i":95,"u":0.00345,"uk":"r","d":-0.00224,"dk":"r"},{"i":96,"u":0.00336,"uk":"r","d":-0.00177,"dk":"r"},{"i":97,"u":0.00326,"uk":"r","d":-0.0015,"dk":"r"},{"i":98,"u":0.00289,"uk":"r","d":-0.00158,"dk":"g"},{"i":99,"u":0.0027,"uk":"r","d":-0.00168,"dk":"g"},
      {"i":100,"u":0.0026,"uk":"r","d":-0.00169,"dk":"g"},{"i":101,"u":0.0027,"uk":"g","d":-0.00177,"dk":"g"},{"i":102,"u":0.00271,"uk":"g","d":-0.0024,"dk":"g"},{"i":103,"u":0.0028,"uk":"g","d":-0.0029,"dk":"g"},{"i":104,"u":0.00317,"uk":"g","d":-0.0026,"dk":"r"},
      {"i":105,"u":0.00354,"uk":"g","d":-0.00224,"dk":"r"},{"i":106,"u":0.00364,"uk":"g","d":-0.00196,"dk":"r"},{"i":107,"u":0.00336,"uk":"r","d":-0.00186,"dk":"r"},{"i":108,"u":0.00317,"uk":"r","d":-0.0019,"dk":"g"},{"i":109,"u":0.00289,"uk":"r","d":-0.0025,"dk":"g"},
      {"i":110,"u":0.00298,"uk":"g","d":-0.0027,"dk":"g"},{"i":111,"u":0.00326,"uk":"g","d":-0.00271,"dk":"g"},{"i":112,"u":0.00364,"uk":"g","d":-0.003,"dk":"g"},{"i":113,"u":0.00382,"uk":"g","d":-0.00317,"dk":"g"},{"i":114,"u":0.00383,"uk":"g","d":-0.00308,"dk":"r"},
      {"i":115,"u":0.00401,"uk":"g","d":-0.0029,"dk":"r"},{"i":116,"u":0.00419,"uk":"g","d":-0.0027,"dk":"r"},{"i":117,"u":0.0042,"uk":"g","d":-0.00242,"dk":"r"},{"i":118,"u":0.0041,"uk":"r","d":-0.00233,"dk":"r"},{"i":119,"u":0.00382,"uk":"r","d":-0.00224,"dk":"r"},
      {"i":120,"u":0.00373,"uk":"r","d":-0.00214,"dk":"r"},{"i":121,"u":0.00364,"uk":"r","d":-0.00177,"dk":"r"},{"i":122,"u":0.00354,"uk":"r","d":-0.0015,"dk":"r"},{"i":123,"u":0.00336,"uk":"r","d":-0.00149,"dk":"r"},{"i":124,"u":0.00308,"uk":"r","d":-0.00158,"dk":"g"},
      {"i":125,"u":0.00298,"uk":"r","d":-0.00159,"dk":"g"},{"i":126,"u":0.00289,"uk":"r","d":-0.0014,"dk":"r"},{"i":127,"u":0.00288,"uk":"r","d":-0.00093,"dk":"r"},{"i":128,"u":0.0028,"uk":"r","d":-0.00028,"dk":"r"},{"i":129,"u":0.00242,"uk":"r","d":-0.0001,"dk":"r"},
      {"i":130,"u":0.00196,"uk":"r","d":-0.00019,"dk":"g"},{"i":131,"u":0.00158,"uk":"r","d":-0.0002,"dk":"g"},{"i":132,"u":0.0014,"uk":"r","d":-0.00028,"dk":"g"},{"i":133,"u":0.00139,"uk":"r","d":-0.00056,"dk":"g"},{"i":134,"u":0.00149,"uk":"g","d":-0.00065,"dk":"g"},
      {"i":135,"u":0.0015,"uk":"g","d":-0.00047,"dk":"r"},{"i":136,"u":0.00158,"uk":"g","d":-0.00022,"dk":"r"},{"i":137,"u":0.0014,"uk":"r","d":-0.00019,"dk":"r"},{"i":138,"u":0.00121,"uk":"r","d":-0.0001,"dk":"r"},{"i":139,"u":0.00112,"uk":"r","d":-0.00028,"dk":"g"},
      {"i":140,"u":0.00093,"uk":"r","d":-0.000456,"dk":"g"},{"i":141,"u":0.00075,"uk":"r"},{"i":142,"u":0.000458,"uk":"r"}
    ]
  },
  "vconcat": [
    {
      "width": 1226,
      "height": 472,
      "layer": [
        {
          "data": {"name": "candles"},
          "mark": {"type": "rule", "color": "#000000", "strokeWidth": 1},
          "encoding": {
            "x": {"field": "i", "type": "quantitative", "scale": {"domain": [-0.0625, 153.1875], "nice": false, "zero": false},
                  "axis": {"values": [0,4,8,12,16,20,24,28,32,36,40,44,48,52,56,60,64,68,72,76,80,84,88,92,96,100,104,108,112,116,120,124,128,132,136,140,144,148,152], "grid": true, "labels": false, "ticks": false, "domain": false, "title": null}},
            "y": {"field": "l", "type": "quantitative", "scale": {"domain": [1.255245, 1.293355], "nice": false, "zero": false},
                  "axis": {"orient": "right", "values": [1.2579,1.2605,1.2631,1.2657,1.2683,1.2709,1.2735,1.2761,1.2787,1.2813,1.2839,1.2865,1.2891,1.2917], "format": ".5f", "grid": true, "ticks": true, "title": null}},
            "y2": {"field": "h"}
          }
        },
        {
          "data": {"name": "candles"},
          "mark": {"type": "bar", "size": 4, "stroke": "#000000", "strokeWidth": 1},
          "encoding": {
            "x": {"field": "i", "type": "quantitative", "scale": {"domain": [-0.0625, 153.1875], "nice": false, "zero": false},
                  "axis": {"values": [0,4,8,12,16,20,24,28,32,36,40,44,48,52,56,60,64,68,72,76,80,84,88,92,96,100,104,108,112,116,120,124,128,132,136,140,144,148,152], "grid": true, "labels": false, "ticks": false, "domain": false, "title": null}},
            "y": {"field": "o", "type": "quantitative", "scale": {"domain": [1.255245, 1.293355], "nice": false, "zero": false},
                  "axis": {"orient": "right", "values": [1.2579,1.2605,1.2631,1.2657,1.2683,1.2709,1.2735,1.2761,1.2787,1.2813,1.2839,1.2865,1.2891,1.2917], "format": ".5f", "grid": true, "ticks": true, "title": null}},
            "y2": {"field": "c"},
            "fill": {"condition": {"test": "datum.c > datum.o", "value": "#ffffff"}, "value": "#000000"}
          }
        },
        {
          "data": {"name": "bid"},
          "mark": {"type": "rule", "color": "#d00000", "strokeWidth": 1},
          "encoding": {
            "y": {"field": "p", "type": "quantitative", "scale": {"domain": [1.255245, 1.293355], "nice": false, "zero": false},
                  "axis": {"orient": "right", "values": [1.2579,1.2605,1.2631,1.2657,1.2683,1.2709,1.2735,1.2761,1.2787,1.2813,1.2839,1.2865,1.2891,1.2917], "format": ".5f", "grid": true, "ticks": true, "title": null}}
          }
        },
        {
          "data": {"name": "lines"},
          "mark": {"type": "line", "strokeWidth": 2},
          "encoding": {
            "x": {"field": "i", "type": "quantitative", "scale": {"domain": [-0.0625, 153.1875], "nice": false, "zero": false},
                  "axis": {"values": [0,4,8,12,16,20,24,28,32,36,40,44,48,52,56,60,64,68,72,76,80,84,88,92,96,100,104,108,112,116,120,124,128,132,136,140,144,148,152], "grid": true, "labels": false, "ticks": false, "domain": false, "title": null}},
            "y": {"field": "v", "type": "quantitative", "scale": {"domain": [1.255245, 1.293355], "nice": false, "zero": false},
                  "axis": {"orient": "right", "values": [1.2579,1.2605,1.2631,1.2657,1.2683,1.2709,1.2735,1.2761,1.2787,1.2813,1.2839,1.2865,1.2891,1.2917], "format": ".5f", "grid": true, "ticks": true, "title": null}},
            "color": {"field": "s", "type": "nominal", "scale": {"domain": ["J", "T", "L", "g", "r"], "range": ["#0050d0", "#ff0000", "#00ff00", "#008000", "#ff0000"]}, "legend": null}
          }
        },
        {
          "data": {"name": "fu"},
          "mark": {"type": "point", "shape": "M0,-1L1,0.9L0,0.4L-1,0.9Z", "size": 90, "filled": true, "fill": "#a8a8a8", "stroke": "#7c7c7c", "strokeWidth": 0.6, "opacity": 1, "yOffset": -9.5, "clip": true},
          "encoding": {
            "x": {"field": "i", "type": "quantitative", "scale": {"domain": [-0.0625, 153.1875], "nice": false, "zero": false},
                  "axis": {"values": [0,4,8,12,16,20,24,28,32,36,40,44,48,52,56,60,64,68,72,76,80,84,88,92,96,100,104,108,112,116,120,124,128,132,136,140,144,148,152], "grid": true, "labels": false, "ticks": false, "domain": false, "title": null}},
            "y": {"field": "p", "type": "quantitative", "scale": {"domain": [1.255245, 1.293355], "nice": false, "zero": false},
                  "axis": {"orient": "right", "values": [1.2579,1.2605,1.2631,1.2657,1.2683,1.2709,1.2735,1.2761,1.2787,1.2813,1.2839,1.2865,1.2891,1.2917], "format": ".5f", "grid": true, "ticks": true, "title": null}}
          }
        },
        {
          "data": {"name": "fd"},
          "mark": {"type": "point", "shape": "M0,1L1,-0.9L0,-0.4L-1,-0.9Z", "size": 90, "filled": true, "fill": "#a8a8a8", "stroke": "#7c7c7c", "strokeWidth": 0.6, "opacity": 1, "yOffset": 7.5, "clip": true},
          "encoding": {
            "x": {"field": "i", "type": "quantitative", "scale": {"domain": [-0.0625, 153.1875], "nice": false, "zero": false},
                  "axis": {"values": [0,4,8,12,16,20,24,28,32,36,40,44,48,52,56,60,64,68,72,76,80,84,88,92,96,100,104,108,112,116,120,124,128,132,136,140,144,148,152], "grid": true, "labels": false, "ticks": false, "domain": false, "title": null}},
            "y": {"field": "p", "type": "quantitative", "scale": {"domain": [1.255245, 1.293355], "nice": false, "zero": false},
                  "axis": {"orient": "right", "values": [1.2579,1.2605,1.2631,1.2657,1.2683,1.2709,1.2735,1.2761,1.2787,1.2813,1.2839,1.2865,1.2891,1.2917], "format": ".5f", "grid": true, "ticks": true, "title": null}}
          }
        },
        {
          "data": {"name": "sig"},
          "mark": {"type": "point", "shape": "M-0.4,-1L0.4,-1L0.4,0L0.9,0L0,1L-0.9,0L-0.4,0Z", "size": 324, "filled": true, "fill": "#fff2f2", "stroke": "#ff3030", "strokeWidth": 2, "opacity": 1},
          "encoding": {
            "x": {"field": "i", "type": "quantitative", "scale": {"domain": [-0.0625, 153.1875], "nice": false, "zero": false},
                  "axis": {"values": [0,4,8,12,16,20,24,28,32,36,40,44,48,52,56,60,64,68,72,76,80,84,88,92,96,100,104,108,112,116,120,124,128,132,136,140,144,148,152], "grid": true, "labels": false, "ticks": false, "domain": false, "title": null}},
            "y": {"field": "p", "type": "quantitative", "scale": {"domain": [1.255245, 1.293355], "nice": false, "zero": false},
                  "axis": {"orient": "right", "values": [1.2579,1.2605,1.2631,1.2657,1.2683,1.2709,1.2735,1.2761,1.2787,1.2813,1.2839,1.2865,1.2891,1.2917], "format": ".5f", "grid": true, "ticks": true, "title": null}}
          }
        },
        {
          "data": {"name": "bid"},
          "mark": {"type": "rect", "color": "#c80000"},
          "encoding": {
            "x": {"datum": 153.35, "type": "quantitative", "scale": {"domain": [-0.0625, 153.1875], "nice": false, "zero": false},
                  "axis": {"values": [0,4,8,12,16,20,24,28,32,36,40,44,48,52,56,60,64,68,72,76,80,84,88,92,96,100,104,108,112,116,120,124,128,132,136,140,144,148,152], "grid": true, "labels": false, "ticks": false, "domain": false, "title": null}},
            "x2": {"datum": 158.3},
            "y": {"field": "lo", "type": "quantitative", "scale": {"domain": [1.255245, 1.293355], "nice": false, "zero": false},
                  "axis": {"orient": "right", "values": [1.2579,1.2605,1.2631,1.2657,1.2683,1.2709,1.2735,1.2761,1.2787,1.2813,1.2839,1.2865,1.2891,1.2917], "format": ".5f", "grid": true, "ticks": true, "title": null}},
            "y2": {"field": "hi"}
          }
        },
        {
          "data": {"name": "bid"},
          "mark": {"type": "text", "color": "#ffffff", "align": "left", "baseline": "middle", "fontSize": 9, "dx": 2},
          "encoding": {
            "x": {"datum": 153.5, "type": "quantitative", "scale": {"domain": [-0.0625, 153.1875], "nice": false, "zero": false},
                  "axis": {"values": [0,4,8,12,16,20,24,28,32,36,40,44,48,52,56,60,64,68,72,76,80,84,88,92,96,100,104,108,112,116,120,124,128,132,136,140,144,148,152], "grid": true, "labels": false, "ticks": false, "domain": false, "title": null}},
            "y": {"field": "p", "type": "quantitative", "scale": {"domain": [1.255245, 1.293355], "nice": false, "zero": false},
                  "axis": {"orient": "right", "values": [1.2579,1.2605,1.2631,1.2657,1.2683,1.2709,1.2735,1.2761,1.2787,1.2813,1.2839,1.2865,1.2891,1.2917], "format": ".5f", "grid": true, "ticks": true, "title": null}},
            "text": {"field": "t"}
          }
        }
      ]
    },
    {
      "width": 1226,
      "height": 100,
      "encoding": {
        "x": {"field": "i", "type": "quantitative", "scale": {"domain": [-0.0625, 153.1875], "nice": false, "zero": false},
              "axis": {"values": [0,4,8,12,16,20,24,28,32,36,40,44,48,52,56,60,64,68,72,76,80,84,88,92,96,100,104,108,112,116,120,124,128,132,136,140,144,148,152], "grid": true, "labels": false, "ticks": false, "domain": false, "title": null}},
        "y": {"field": "v", "type": "quantitative", "scale": {"domain": [-0.00657, 0.009743], "nice": false, "zero": false},
              "axis": {"orient": "right", "values": [-0.00657, 0, 0.009743], "format": ".6f", "labelFlush": true, "grid": true, "gridOpacity": {"condition": {"test": "datum.value == 0", "value": 1}, "value": 0}, "title": null}}
      },
      "layer": [
        {
          "data": {"name": "ao"},
          "mark": {"type": "bar", "size": 4},
          "encoding": {
            "y2": {"datum": 0},
            "color": {"field": "k", "type": "nominal", "scale": {"domain": ["J", "T", "L", "g", "r"], "range": ["#0050d0", "#ff0000", "#00ff00", "#008000", "#ff0000"]}, "legend": null}
          }
        },
        {
          "data": {"values": [{"t": "AOcust -0.000185", "i": 0, "v": 0.009743}]},
          "mark": {"type": "text", "align": "left", "baseline": "middle", "color": "#000000", "dx": 3.5, "dy": 9.5},
          "encoding": {"text": {"field": "t"}}
        }
      ]
    },
    {
      "width": 1226,
      "height": 100,
      "encoding": {
        "x": {"field": "i", "type": "quantitative", "scale": {"domain": [-0.0625, 153.1875], "nice": false, "zero": false},
              "axis": {"values": [0,4,8,12,16,20,24,28,32,36,40,44,48,52,56,60,64,68,72,76,80,84,88,92,96,100,104,108,112,116,120,124,128,132,136,140,144,148,152], "grid": true, "labels": false, "ticks": false, "domain": false, "title": null}},
        "y": {"field": "v", "type": "quantitative", "scale": {"domain": [-0.002427, 0.0030418], "nice": false, "zero": false},
              "axis": {"orient": "right", "values": [-0.002427, 0, 0.0030418], "format": ".7f", "labelFlush": true, "grid": true, "gridOpacity": {"condition": {"test": "datum.value == 0", "value": 1}, "value": 0}, "title": null}}
      },
      "layer": [
        {
          "data": {"name": "ac"},
          "mark": {"type": "bar", "size": 4},
          "encoding": {
            "y2": {"datum": 0},
            "color": {"field": "k", "type": "nominal", "scale": {"domain": ["J", "T", "L", "g", "r"], "range": ["#0050d0", "#ff0000", "#00ff00", "#008000", "#ff0000"]}, "legend": null}
          }
        },
        {
          "data": {"values": [{"t": "ACcust -0.0009810", "i": 0, "v": 0.0030418}]},
          "mark": {"type": "text", "align": "left", "baseline": "middle", "color": "#000000", "dx": 3.5, "dy": 9.5},
          "encoding": {"text": {"field": "t"}}
        }
      ]
    },
    {
      "width": 1226,
      "height": 100,
      "encoding": {
        "x": {"field": "i", "type": "quantitative", "scale": {"domain": [-0.0625, 153.1875], "nice": false, "zero": false},
              "axis": {"values": [0,4,8,12,16,20,24,28,32,36,40,44,48,52,56,60,64,68,72,76,80,84,88,92,96,100,104,108,112,116,120,124,128,132,136,140,144,148,152], "grid": true, "labels": true, "ticks": true, "tickSize": 4, "domain": false, "title": null,
                       "tickOpacity": {"condition": {"test": "datum.value % 8 == 0 && datum.value <= 136", "value": 1}, "value": 0},
                       "labelExpr": "datum.value % 8 == 0 && datum.value <= 136 ? ['27 Feb 2025','27 Feb 15:00','27 Feb 23:00','28 Feb 07:00','28 Feb 15:00','28 Feb 23:00','3 Mar 07:00','3 Mar 15:00','3 Mar 23:00','4 Mar 07:00','4 Mar 15:00','4 Mar 23:00','5 Mar 07:00','5 Mar 15:00','5 Mar 23:00','6 Mar 07:00','6 Mar 15:00','6 Mar 23:00'][datum.value / 8] : ''",
                       "labelAlign": "left", "labelBaseline": "top", "labelPadding": 1, "labelOverlap": false, "labelBound": false, "labelFlush": false}},
        "y": {"field": "u", "type": "quantitative", "scale": {"domain": [-0.00426, 0.005033], "nice": false, "zero": false},
              "axis": {"orient": "right", "values": [-0.00426, 0, 0.005033], "format": ".6f", "labelFlush": true, "grid": true, "gridOpacity": {"condition": {"test": "datum.value == 0", "value": 1}, "value": 0}, "title": null}}
      },
      "layer": [
        {
          "data": {"name": "gator"},
          "mark": {"type": "bar", "size": 4},
          "encoding": {
            "y2": {"datum": 0},
            "color": {"field": "uk", "type": "nominal", "scale": {"domain": ["J", "T", "L", "g", "r"], "range": ["#0050d0", "#ff0000", "#00ff00", "#008000", "#ff0000"]}, "legend": null}
          }
        },
        {
          "data": {"name": "gator"},
          "mark": {"type": "bar", "size": 4},
          "encoding": {
            "y": {"field": "d", "type": "quantitative"},
            "y2": {"datum": 0},
            "color": {"field": "dk", "type": "nominal", "scale": {"domain": ["J", "T", "L", "g", "r"], "range": ["#0050d0", "#ff0000", "#00ff00", "#008000", "#ff0000"]}, "legend": null}
          }
        },
        {
          "data": {"values": [{"t": "GatorCust 0.000458 -0.000456", "i": 0, "u": 0.005033}]},
          "mark": {"type": "text", "align": "left", "baseline": "middle", "color": "#000000", "dx": 3.5, "dy": 9.5},
          "encoding": {"text": {"field": "t"}}
        }
      ]
    }
  ]
}
